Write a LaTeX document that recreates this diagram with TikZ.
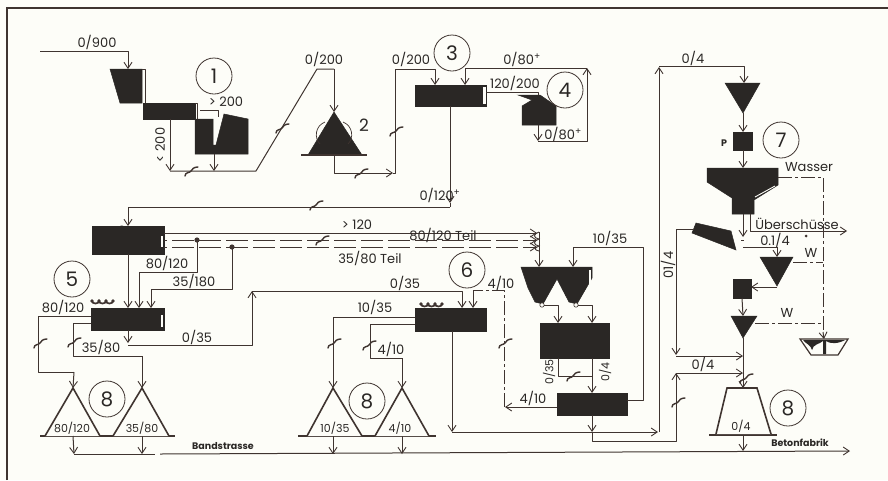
\documentclass[tikz,border=0pt]{standalone}
\usepackage{fontspec}
\setmainfont{Poppins}
\usetikzlibrary{arrows.meta,calc}
\definecolor{paper}{HTML}{FDFDF8}
\definecolor{ink}{HTML}{2A2725}
\definecolor{wire}{HTML}{3F3430}
\tikzset{
  wirel/.style={draw=wire,line width=1pt,line join=round},
  arr/.style={wirel,-{Straight Barb[length=6pt,width=8pt,line width=.9pt]}},
  dsh/.style={wirel,dash pattern=on 22pt off 5pt},
  dsd/.style={wirel,dash pattern=on 14pt off 3pt on 3pt off 3pt},
  blk/.style={fill=ink,draw=ink,line width=.5pt},
  eq/.style={blk,rectangle,inner sep=0pt,outer sep=0pt,anchor=north west},
  cone/.style={draw=wire,line width=1.6pt,line join=miter,fill=paper},
  lab/.style={font=\fontsize{13}{14}\selectfont,text=ink,inner sep=0pt},
  slab/.style={font=\fontsize{11}{12}\selectfont,text=ink,inner sep=0pt},
  tlab/.style={font=\fontsize{9.5}{10}\selectfont\bfseries,text=ink,inner sep=0pt},
  num/.style={circle,draw=wire,line width=.8pt,minimum size=36pt,inner sep=0pt,font=\fontsize{20}{20}\selectfont,text=ink},
  stripe/.style={fill=paper,draw=none},
}
\newcommand{\tk}[2]{\draw[wire,line width=1.4pt,line cap=round] (#1-6,#2+5) .. controls (#1-6,#2+1) and (#1-1,#2+2) .. (#1,#2) .. controls (#1+1,#2-2) and (#1+3,#2-4) .. (#1+7,#2-4);}
\newcommand{\beads}[2]{\draw[wire,line width=1.7pt] (#1,#2) arc (180:0:3.5 and 2.5) arc (180:0:3.5 and 2.5) arc (180:0:3.5 and 2.5);
\fill[wire] (#1,#2) circle (1.8) (#1+7,#2) circle (1.8) (#1+14,#2) circle (1.8) (#1+21,#2) circle (1.8);}
\begin{document}
\begin{tikzpicture}[x=1pt,y=-1pt]
\useasboundingbox (0,0) rectangle (888,480);
\fill[paper] (0,0) rectangle (888,480);
% frame
\coordinate (fa) at (7,480); \coordinate (fb) at (7,8); \coordinate (fc) at (888,8);
\draw[wire,line width=1.2pt] (fa) -- (fb) -- (fc);

% ---------- equipment ----------
\fill[blk] (110,69) -- (142,69) -- (142,103) -- (120,103) -- cycle;
\draw[wirel,line width=.7pt] (142,69) -- (145,69) -- (145,103);
\coordinate (h1) at (128,69);
\node[eq,minimum width=52pt,minimum height=16pt] (s1) at (143,103) {};
\draw[wirel,line width=.7pt] (195,103) -- (197,103) -- (197,119);
\fill[blk] (195,119) -- (213,119) -- (213,145) -- (216,145) -- (224,114) -- (248,119) -- (248,154) -- (195,154) -- cycle;
\coordinate (c1) at (214,154);

\coordinate (cone2top) at (334,112);
\fill[blk] (cone2top) -- (362,155) -- (308,155) -- cycle;
\draw[wire,line width=.7pt] (325,122) .. controls (315,126) and (314,138) .. (320,144);
\draw[wire,line width=.7pt] (343,122) .. controls (353,126) and (354,138) .. (348,144);
\draw[wire,line width=1.4pt] (301,155) -- (367,155);
\coordinate (cone2bot) at (334,155);

\node[eq,minimum width=71pt,minimum height=21pt] (s3) at (415,85) {};
\fill[stripe] (483,87) rectangle (485.5,104);
\coordinate (s3a) at (435,85); \coordinate (s3b) at (465,85);
\fill[blk] (518,95) -- (540,95) -- (556,106) -- (556,125) -- (522,125) -- (522,106) -- (532,100) -- cycle;
\coordinate (c4in) at (538,95); \coordinate (c4out) at (538,125);

\node[eq,minimum width=72pt,minimum height=28pt] (s2) at (92,226) {};
\fill[stripe] (161,236) rectangle (163,247);
\node[eq,minimum width=73pt,minimum height=22pt] (s5) at (91,308) {};
\fill[stripe] (161,315) rectangle (163,327);
\beads{92}{301}
\node[eq,minimum width=71pt,minimum height=23pt] (s6) at (415,308) {};
\beads{421}{304}

% hoppers
\fill[blk] (521,267) -- (592,267) -- (592,278) -- (577,304) -- (569,302) -- (557,279) -- (543,304) -- (535,302) -- (528,288) -- cycle;
\fill[stripe] (589,270) rectangle (591,284);
\draw[wire,fill=paper,line width=.6pt] (542,305) circle (2.2) (576,305) circle (2.2);
\coordinate (h6a) at (539,267); \coordinate (h6b) at (573,267);
\coordinate (h6c) at (544,305); \coordinate (h6d) at (578,305);
\node[eq,minimum width=69pt,minimum height=35pt] (b7) at (540,323) {};
\node[eq,minimum width=70pt,minimum height=22pt] (s7) at (557,393) {};

% right column
\fill[blk] (725,83) -- (760,83) -- (743,113) -- cycle;
\coordinate (t1in) at (744,83); \coordinate (t1out) at (743,113);
\node[eq,minimum width=19pt,minimum height=18pt] (p) at (733,132) {};
\fill[blk] (707,168) -- (778,168) -- (778,185) -- (754,200) -- (754,214) -- (732,214) -- (732,198) -- (707,182) -- cycle;
\draw[paper,line width=.9pt] (755,197) -- (775,186);
\coordinate (bigin) at (743,168); \coordinate (biga) at (743,214); \coordinate (bigb) at (750,214); \coordinate (bigw) at (778,177);
\fill[blk] (696,223) -- (731,231) -- (736,250) -- (692,233) -- cycle;
\coordinate (dw) at (694,229);
\fill[blk] (760,257) -- (793,257) -- (777,286) -- cycle;
\coordinate (t2in) at (777,257); \coordinate (t2w) at (793,262); \coordinate (t2out) at (777,286);
\node[eq,minimum width=18pt,minimum height=19pt] (bx) at (733,279) {};
\fill[blk] (731,316) -- (757,316) -- (743,338) -- cycle;
\coordinate (t3in) at (743,316); \coordinate (t3w) at (755,323); \coordinate (t3out) at (743,338);

% basin
\draw[wire,line width=1.2pt] (800,339) -- (848,339) -- (838,355) -- (811,355) -- cycle;
\fill[ink] (803,340) .. controls (806,344) and (811,345) .. (812,350) .. controls (813,344) and (820,344) .. (823,341) -- (823,354) -- (826,354) -- (826,341) .. controls (830,344) and (838,344) .. (845,340) -- cycle;
\coordinate (bas) at (824,339);

% silos
\draw[wire,line width=1.4pt] (40,436) -- (175,436);
\draw[cone] (45,436) -- (73,388) -- (100,436);
\draw[cone] (113,436) -- (142,388) -- (169,436);
\draw[wire,line width=1.4pt] (298,436) -- (436,436);
\draw[cone] (307,436) -- (333,388) -- (362,436);
\draw[cone] (375,436) -- (402,388) -- (429,436);
\draw[wire,line width=1.4pt] (709,435) -- (777,435);
\draw[cone] (716,434) -- (727,388) -- (757,388) -- (771,434);
\coordinate (sa) at (73,388); \coordinate (sb) at (142,388); \coordinate (sc) at (333,388); \coordinate (sd) at (402,388); \coordinate (se) at (743,388);
\coordinate (sab) at (73,436); \coordinate (sbb) at (142,436); \coordinate (scb) at (333,436); \coordinate (sdb) at (402,436); \coordinate (seb) at (743,435);

% ---------- connectors ----------
\coordinate (feed) at (40,51);
\draw[arr] (feed) -- (128,51) -- (h1);
\coordinate (j1) at (170,171);
\draw[arr] (170,119) -- (j1);
\draw[arr] (c1) -- (214,171);
\draw[wirel] (j1) -- (256,171) -- (317,69) -- (334,69);
\draw[arr] (334,69) -- (cone2top);
\draw[wirel] (200,110) -- (218,110) -- (218,117);
\draw[arr] (cone2bot) -- (334,173) -- (393,173);
\draw[arr] (393,173) -- (395,173) -- (395,69) -- (435,69) -- (s3a);
\draw[wirel] (s3.east |- 0,92) -- (538,92) -- (c4in);
\draw[arr] (c4out) -- (538,141);
\draw[arr] (538,141) -- (587,141) -- (587,68);
\draw[arr] (587,68) -- (465,68) -- (s3b);
\draw[arr] (450,106) -- (450,203);
\draw[arr] (450,207) -- (128,207) -- (128,226);
\draw[wirel] (450,203) -- (450,207);
% triple line
\draw[arr] (164,233) -- (537,233);
\draw[dsh,dash phase=-8pt] (164,240) -- (530,240);
\draw[dsh,dash phase=-8pt] (164,247) -- (530,247);
\draw[arr] (528,240) -- (537,240);
\draw[arr] (528,247) -- (537,247);
\draw[wire,line width=.9pt] (539,232) .. controls (533,234) and (533,238) .. (539,239) .. controls (533,241) and (533,245) .. (539,246) .. controls (534,248) and (534,250) .. (539,251);
\draw[arr] (539,232) -- (h6a);
\fill[wire] (197,240) circle (2.6) (232,247) circle (2.6);
\draw[arr] (197,240) -- (197,272) -- (139,272) -- (139,308);
\draw[arr] (232,247) -- (232,289) -- (151,289) -- (151,308);
\draw[arr] (128,254) -- (128,308);
\draw[wirel] (s5.west |- 0,316) -- (38,316) -- (38,372) -- (74,372);
\draw[arr] (74,372) -- (sa);
\draw[wirel] (s5.west |- 0,323) -- (73,323) -- (73,356) -- (142,356);
\draw[arr] (142,356) -- (sb);
\draw[arr] (128,330) -- (128,343);
\draw[arr] (128,345) -- (252,345) -- (252,291);
\draw[arr] (252,291) -- (462,291) -- (462,308);
\draw[wirel] (s6.west |- 0,317) -- (333,317) -- (333,380);
\draw[arr] (333,380) -- (sc);
\draw[wirel] (s6.west |- 0,324) -- (370,324) -- (370,358) -- (402,358);
\draw[arr] (402,358) -- (sd);
\draw[arr] (452,331) -- (452,432);
\draw[arr] (452,432) -- (658,432);
\draw[arr] (659,432) -- (659,67);
\draw[arr] (659,66) -- (744,66) -- (t1in);
\draw[arr] (s7.west |- 0,407) -- (505,407);
\draw[dsd] (504,407) -- (504,290) -- (473,290);
\draw[arr] (473,290) -- (473,308);
\draw[arr] (h6c) -- (558,305) -- (558,323);
\draw[arr] (h6d) -- (592,305) -- (592,323);
\draw[wirel] (558,358) -- (558,376) -- (592,376);
\draw[arr] (592,358) -- (592,393);
\draw[arr] (s7.east |- 0,400) -- (643,400) -- (643,247) -- (573,247) -- (h6b);
\draw[arr] (592,415) -- (592,432);
\draw[arr] (592,432) -- (592,441) -- (676,441) -- (676,373);
\draw[arr] (676,373) -- (743,373);
\draw[arr] (t1out) -- (p.north -| t1out);
\draw[arr] (p.south -| bigin) -- (bigin);
\draw[arr] (biga) -- (743,237);
\draw[arr] (bigb) -- (750,231) -- (847,231);
\draw[dsd] (bigw) -- (823,177) -- (823,332);
\draw[arr] (823,332) -- (bas);
\draw[dsd] (t2w) -- (823,262);
\draw[dsd] (t3w) -- (823,323);
\fill[wire] (806,236) circle (1.5);
\draw[arr] (dw) -- (676,229) -- (676,355);
\draw[arr] (676,356) -- (743,356);
\draw[wirel] (741,240) -- (744,240);
\draw[wirel] (743,247) -- (777,247);
\draw[arr] (777,247) -- (t2in);
\draw[arr] (t2out |- 0,287) -- (bx.east |- 0,287);
\draw[arr] (742,298) -- (t3in);
\draw[arr] (t3out) -- (se);
\draw[arr] (sab) -- (74,454);
\draw[arr] (sbb) -- (142,454);
\draw[arr] (scb) -- (333,454);
\draw[arr] (sdb) -- (402,454);
\draw[arr] (seb) -- (743,451);
\draw[wirel] (74,454) -- (155,454);
\draw[arr] (160,454) -- (850,451);

% belt ticks
\tk{191}{171}\tk{282}{128}\tk{361}{173}\tk{396}{131}\tk{316}{205}\tk{322}{240}
\tk{40}{343}\tk{74}{342}\tk{334}{343}\tk{369}{345}\tk{505}{343}\tk{573}{376}\tk{678}{402}\tk{746}{378}

% ---------- labels ----------
\node[lab] (l1) at (97,42) {0/900};
\node[lab] (l2) at (226,102) {> 200};
\node[lab,rotate=90] (l3) at (160,145) {< 200};
\node[lab] (l4) at (324,59) {0/200};
\node[lab] (l5) at (411,59) {0/200};
\node[lab] (l6) at (522,59) {0/80\textsuperscript{+}};
\node[lab] (l7) at (515,83) {120/200};
\node[lab] (l8) at (563,134) {0/80\textsuperscript{+}};
\node[lab] (l9) at (440,195) {0/120\textsuperscript{+}};
\node[lab] (l10) at (364,125) {\fontsize{17}{17}\selectfont 2};
\node[lab] (l11) at (357,225) {> 120};
\node[lab,fill=none] (l12) at (443,235) {80/120 Teil};
\node[lab] (l13) at (370,258) {35/80 Teil};
\node[lab] (l14) at (167,263) {80/120};
\node[lab] (l15) at (194,281) {35/180};
\node[lab,rotate=90] (l16) at (120,240) {0/35};
\node[lab] (l17) at (63,307) {80/120};
\node[lab] (l18) at (101,347) {35/80};
\node[lab] (l19) at (197,337) {0/35};
\node[lab] (l20) at (405,283) {0/35};
\node[lab] (l21) at (501,283) {4/10};
\node[lab] (l22) at (375,307) {10/35};
\node[lab] (l23) at (391,349) {4/10};
\node[lab] (l24) at (533,398) {4/10};
\node[lab] (l25) at (610,238) {10/35};
\node[slab,rotate=90] (l26) at (549,372) {0/35};
\node[slab,rotate=90] (l27) at (605,372) {0/4};
\node[lab,rotate=90] (l28) at (668,265) {01/4};
\node[lab] (l29) at (693,58) {0/4};
\node[lab] (l30) at (703,364) {0/4};
\node[tlab] (l31) at (724,143) {P};
\node[lab] (l32) at (809,167) {Wasser};
\node[lab] (l33) at (797,224) {Überschüsse};
\node[lab] (l34) at (775,240) {0.1/4};
\node[lab] (l35) at (811,253) {W};
\node[lab] (l36) at (787,313) {W};
\node[slab] (l37) at (72,428) {80/120};
\node[slab] (l38) at (142,428) {35/80};
\node[slab] (l39) at (335,428) {10/35};
\node[slab] (l40) at (400,428) {4/10};
\node[slab] (l41) at (741,426) {0/4};
\node[tlab] (l42) at (223,446) {Bandstrasse};
\node[tlab] (l43) at (800,443) {Betonfabrik};

\node[num] (n1) at (214,76) {1};
\node[num] (n3) at (452,53) {3};
\node[num] (n4) at (565,90) {4};
\node[num] (n5) at (72,279) {5};
\node[num] (n6) at (467,270) {6};
\node[num] (n7) at (781,140) {7};
\node[num] (n8a) at (107,399) {8};
\node[num] (n8b) at (367,401) {8};
\node[num] (n8c) at (788,408) {8};
\end{tikzpicture}
\end{document}
